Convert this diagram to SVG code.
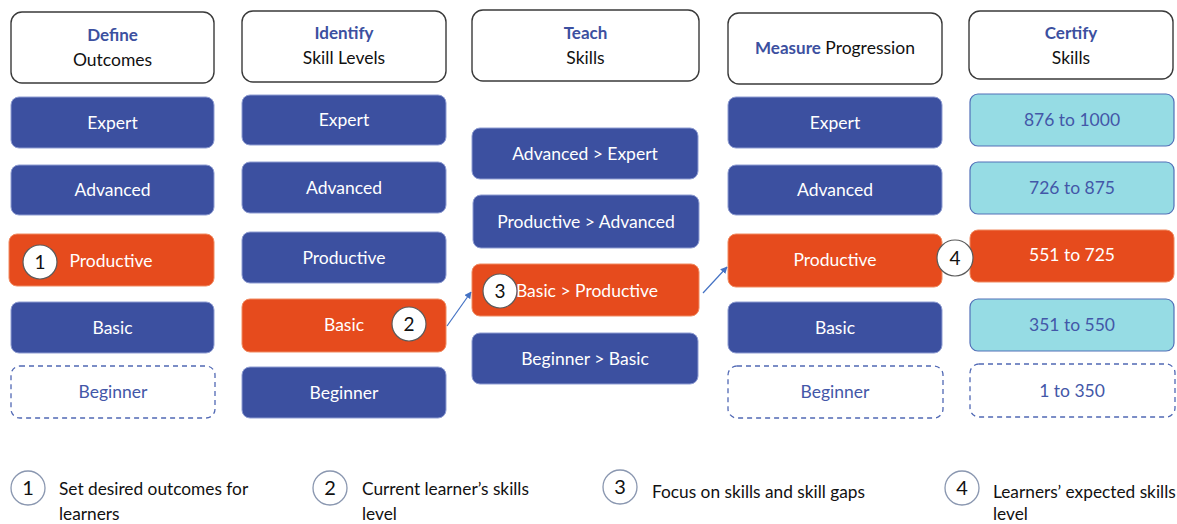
<svg xmlns="http://www.w3.org/2000/svg" width="1177" height="524" viewBox="0 0 1177 524">
  <style>
    text { font-family: Lato, "Noto Sans", "Liberation Sans", sans-serif; }
    .hdr { fill: #ffffff; stroke: #3a3a3a; stroke-width: 1.4; }
    .blue { fill: #3c50a0; stroke: #8e9cd2; stroke-width: 1; }
    .orange { fill: #e64b1d; stroke: #f08a60; stroke-width: 1; }
    .cyan { fill: #96dce4; stroke: #5270b8; stroke-width: 1.2; }
    .dash { fill: #ffffff; stroke: #5068b4; stroke-width: 1.3; stroke-dasharray: 5 4; }
    .lbl { font-size: 17.5px; fill: #ffffff; text-anchor: middle; }
    .lbl-b { font-size: 17.5px; fill: #4357a8; text-anchor: middle; }
    .h1 { font-size: 17px; font-weight: bold; fill: #3c50a0; text-anchor: middle; }
    .h2 { font-size: 17.5px; fill: #111111; text-anchor: middle; }
    .badge { fill: #ffffff; stroke: #5a5a5a; stroke-width: 1.2; }
    .num { font-size: 19px; fill: #111111; text-anchor: middle; }
    .key { fill: #ffffff; stroke: #8a97b0; stroke-width: 1.3; }
    .note { font-size: 17.3px; fill: #111111; }
    .conn { stroke: #4472c4; stroke-width: 1.2; fill: none; marker-end: url(#arrow); }
  </style>
  <defs>
    <marker id="arrow" viewBox="0 0 10 10" refX="9" refY="5" markerWidth="7" markerHeight="7" orient="auto" markerUnits="userSpaceOnUse">
      <path d="M0,0 L10,5 L0,10 z" fill="#4472c4"/>
    </marker>
  </defs>

  <rect width="1177" height="524" fill="#ffffff"/>

  <!-- Column 1: Define Outcomes -->
  <g id="define-header">
    <rect class="hdr" x="11" y="12" width="203" height="71" rx="11"/>
    <text class="h1" x="112.5" y="41">Define</text>
    <text class="h2" x="112.5" y="66">Outcomes</text>
  </g>
  <g id="define-expert">
    <rect class="blue" x="11" y="97" width="203" height="51" rx="8"/>
    <text class="lbl" x="112.5" y="129">Expert</text>
  </g>
  <g id="define-advanced">
    <rect class="blue" x="11" y="165" width="203" height="50" rx="8"/>
    <text class="lbl" x="112.5" y="196">Advanced</text>
  </g>
  <g id="define-productive">
    <rect class="orange" x="9" y="234" width="205" height="52" rx="8"/>
    <text class="lbl" x="111" y="267">Productive</text>
  </g>
  <g id="define-basic">
    <rect class="blue" x="11" y="302" width="203" height="51" rx="8"/>
    <text class="lbl" x="112.5" y="334">Basic</text>
  </g>
  <g id="define-beginner">
    <rect class="dash" x="11" y="366" width="204" height="52" rx="9"/>
    <text class="lbl-b" x="113" y="398">Beginner</text>
  </g>

  <!-- Column 2: Identify Skill Levels -->
  <g id="identify-header">
    <rect class="hdr" x="242" y="11" width="204" height="71" rx="11"/>
    <text class="h1" x="344" y="39">Identify</text>
    <text class="h2" x="344" y="64">Skill Levels</text>
  </g>
  <g id="identify-expert">
    <rect class="blue" x="242" y="95" width="204" height="50" rx="8"/>
    <text class="lbl" x="344" y="126">Expert</text>
  </g>
  <g id="identify-advanced">
    <rect class="blue" x="242" y="162" width="204" height="51" rx="8"/>
    <text class="lbl" x="344" y="194">Advanced</text>
  </g>
  <g id="identify-productive">
    <rect class="blue" x="242" y="232" width="204" height="51" rx="8"/>
    <text class="lbl" x="344" y="264">Productive</text>
  </g>
  <g id="identify-basic">
    <rect class="orange" x="242" y="299" width="204" height="53" rx="8"/>
    <text class="lbl" x="344" y="331">Basic</text>
  </g>
  <g id="identify-beginner">
    <rect class="blue" x="242" y="367" width="204" height="51" rx="8"/>
    <text class="lbl" x="344" y="399">Beginner</text>
  </g>

  <!-- Column 3: Teach Skills -->
  <g id="teach-header">
    <rect class="hdr" x="472" y="10" width="227" height="71" rx="11"/>
    <text class="h1" x="585.5" y="39">Teach</text>
    <text class="h2" x="585.5" y="64">Skills</text>
  </g>
  <g id="teach-advanced-expert">
    <rect class="blue" x="472" y="128" width="226" height="51" rx="8"/>
    <text class="lbl" x="585" y="160">Advanced &gt; Expert</text>
  </g>
  <g id="teach-productive-advanced">
    <rect class="blue" x="473" y="195" width="226" height="53" rx="8"/>
    <text class="lbl" x="586" y="228">Productive &gt; Advanced</text>
  </g>
  <g id="teach-basic-productive">
    <rect class="orange" x="472" y="264" width="227" height="52" rx="8"/>
    <text class="lbl" x="587" y="297">Basic &gt; Productive</text>
  </g>
  <g id="teach-beginner-basic">
    <rect class="blue" x="472" y="333" width="226" height="51" rx="8"/>
    <text class="lbl" x="585" y="365">Beginner &gt; Basic</text>
  </g>

  <!-- Column 4: Measure Progression -->
  <g id="measure-header">
    <rect class="hdr" x="728" y="13" width="214" height="71" rx="11"/>
    <text x="835" y="54" style="font-size:17.5px;text-anchor:middle"><tspan style="font-weight:bold;fill:#3c50a0;font-size:17px">Measure</tspan><tspan fill="#111111"> Progression</tspan></text>
  </g>
  <g id="measure-expert">
    <rect class="blue" x="728" y="97" width="214" height="51" rx="8"/>
    <text class="lbl" x="835" y="129">Expert</text>
  </g>
  <g id="measure-advanced">
    <rect class="blue" x="728" y="165" width="214" height="50" rx="8"/>
    <text class="lbl" x="835" y="196">Advanced</text>
  </g>
  <g id="measure-productive">
    <rect class="orange" x="728" y="234" width="214" height="53" rx="8"/>
    <text class="lbl" x="835" y="266">Productive</text>
  </g>
  <g id="measure-basic">
    <rect class="blue" x="728" y="302" width="214" height="51" rx="8"/>
    <text class="lbl" x="835" y="334">Basic</text>
  </g>
  <g id="measure-beginner">
    <rect class="dash" x="728" y="366" width="215" height="52" rx="9"/>
    <text class="lbl-b" x="835" y="398">Beginner</text>
  </g>

  <!-- Column 5: Certify Skills -->
  <g id="certify-header">
    <rect class="hdr" x="969" y="11" width="204" height="68" rx="11"/>
    <text class="h1" x="1071" y="39">Certify</text>
    <text class="h2" x="1071" y="64">Skills</text>
  </g>
  <g id="certify-876-1000">
    <rect class="cyan" x="970" y="94" width="204" height="52" rx="8"/>
    <text class="lbl-b" x="1072" y="126">876 to 1000</text>
  </g>
  <g id="certify-726-875">
    <rect class="cyan" x="970" y="162" width="204" height="52" rx="8"/>
    <text class="lbl-b" x="1072" y="194">726 to 875</text>
  </g>
  <g id="certify-551-725">
    <rect class="orange" x="970" y="230" width="204" height="52" rx="8"/>
    <text class="lbl" x="1072" y="261">551 to 725</text>
  </g>
  <g id="certify-351-550">
    <rect class="cyan" x="970" y="299" width="204" height="52" rx="8"/>
    <text class="lbl-b" x="1072" y="331">351 to 550</text>
  </g>
  <g id="certify-1-350">
    <rect class="dash" x="970" y="364" width="205" height="53" rx="9"/>
    <text class="lbl-b" x="1072" y="397">1 to 350</text>
  </g>

  <!-- Connectors between the highlighted steps -->
  <g id="connectors">
    <line class="conn" x1="447" y1="326" x2="471" y2="292"/>
    <line class="conn" x1="703" y1="293" x2="727" y2="267"/>
  </g>

  <!-- Numbered step badges -->
  <g id="badge-1">
    <circle class="badge" cx="40" cy="262" r="17"/>
    <text class="num" x="40" y="269">1</text>
  </g>
  <g id="badge-2">
    <circle class="badge" cx="409" cy="324" r="17"/>
    <text class="num" x="409" y="331">2</text>
  </g>
  <g id="badge-3">
    <circle class="badge" cx="500" cy="291" r="17"/>
    <text class="num" x="500" y="298">3</text>
  </g>
  <g id="badge-4">
    <circle class="badge" cx="955" cy="258" r="18"/>
    <text class="num" x="955" y="265">4</text>
  </g>

  <!-- Legend -->
  <g id="legend-1">
    <circle class="key" cx="28" cy="488" r="17"/>
    <text class="num" x="28" y="495" style="font-size:20px">1</text>
    <text class="note" x="59" y="495">Set desired outcomes for</text>
    <text class="note" x="59" y="520">learners</text>
  </g>
  <g id="legend-2">
    <circle class="key" cx="330" cy="488" r="17"/>
    <text class="num" x="330" y="495" style="font-size:20px">2</text>
    <text class="note" x="362" y="495">Current learner’s skills</text>
    <text class="note" x="362" y="520">level</text>
  </g>
  <g id="legend-3">
    <circle class="key" cx="620" cy="487" r="17"/>
    <text class="num" x="620" y="494" style="font-size:20px">3</text>
    <text class="note" x="652" y="498">Focus on skills and skill gaps</text>
  </g>
  <g id="legend-4">
    <circle class="key" cx="962" cy="488" r="17"/>
    <text class="num" x="962" y="495" style="font-size:20px">4</text>
    <text class="note" x="993" y="498">Learners’ expected skills</text>
    <text class="note" x="993" y="520">level</text>
  </g>
</svg>
